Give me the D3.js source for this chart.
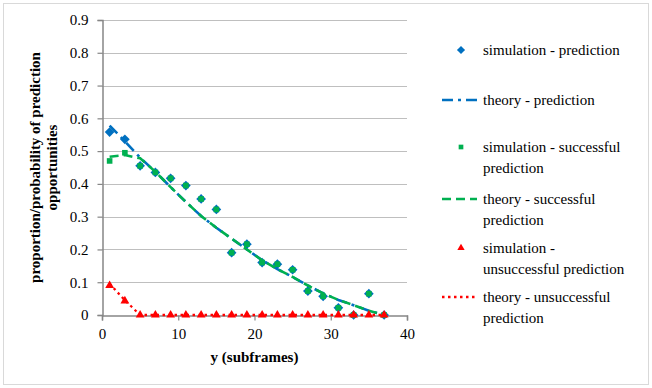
<!DOCTYPE html>
<html>
<head>
<meta charset="utf-8">
<script src="https://cdn.jsdelivr.net/npm/d3@7"></script>
<style>
  body { margin: 0; background: #fff; }
</style>
</head>
<body>
<svg id="chart" width="652" height="388"></svg>
<script>
const WIDTH = 652;
const HEIGHT = 388;
const FONT = '"Liberation Serif", Tinos, "Times New Roman", "DejaVu Serif", serif';

const yValues = [1, 3, 5, 7, 9, 11, 13, 15, 17, 19, 21, 23, 25, 27, 29, 31, 33, 35, 37];

const simPrediction = [0.558, 0.536, 0.455, 0.435, 0.417, 0.395, 0.354, 0.322, 0.19, 0.216,
  0.16, 0.155, 0.138, 0.073, 0.057, 0.022, 0, 0.065, 0];
const theoryPrediction = [0.578, 0.53, 0.48, 0.437, 0.39, 0.345, 0.302, 0.266, 0.233, 0.2,
  0.167, 0.14, 0.116, 0.09, 0.066, 0.046, 0.03, 0.013, 0];
const simSuccessful = [0.47, 0.495, 0.455, 0.435, 0.417, 0.395, 0.354, 0.322, 0.19, 0.216,
  0.16, 0.155, 0.138, 0.073, 0.057, 0.022, 0, 0.065, 0];
const theorySuccessful = [0.483, 0.488, 0.478, 0.437, 0.39, 0.345, 0.302, 0.266, 0.233, 0.2,
  0.167, 0.14, 0.116, 0.09, 0.066, 0.046, 0.03, 0.013, 0];
const simUnsuccessful = [0.09, 0.043, 0, 0, 0, 0, 0, 0, 0, 0, 0, 0, 0, 0, 0, 0, 0, 0, 0];
const theoryUnsuccessful = [0.095, 0.045, 0, 0, 0, 0, 0, 0, 0, 0, 0, 0, 0, 0, 0, 0, 0, 0, 0];

const xTicks = [0, 10, 20, 30, 40];
const yTicks = [0, 0.1, 0.2, 0.3, 0.4, 0.5, 0.6, 0.7, 0.8, 0.9];

const BLUE = '#0070c0';
const GREEN = '#00b050';
const RED = '#ff0000';

const series = [
  { name: ['simulation - prediction'], values: simPrediction, color: BLUE, type: 'marker', symbol: d3.symbolDiamond2, size: 60 },
  { name: ['theory - prediction'], values: theoryPrediction, color: BLUE, type: 'line', dash: '11,5,3,5' },
  { name: ['simulation - successful', 'prediction'], values: simSuccessful, color: GREEN, type: 'marker', symbol: d3.symbolSquare2, size: 40 },
  { name: ['theory - successful', 'prediction'], values: theorySuccessful, color: GREEN, type: 'line', dash: '9,5' },
  { name: ['simulation -', 'unsuccessful prediction'], values: simUnsuccessful, color: RED, type: 'marker', symbol: d3.symbolTriangle2, size: 55 },
  { name: ['theory - unsuccessful', 'prediction'], values: theoryUnsuccessful, color: RED, type: 'line', dash: '2.5,3.5' },
];

const margin = { left: 102, top: 20, right: 245, bottom: 73 };

const svg = d3.select('#chart').attr('font-family', FONT);

// outer frame
svg.append('rect')
  .attr('x', 3.5).attr('y', 3.5)
  .attr('width', 645).attr('height', 381)
  .attr('fill', '#fff')
  .attr('stroke', '#d9d9d9');

const x = d3.scaleLinear().domain([0, 40]).range([margin.left, WIDTH - margin.right]);
const y = d3.scaleLinear().domain([0, 0.9]).range([HEIGHT - margin.bottom, margin.top]);

// gridlines
svg.append('g')
  .selectAll('line')
  .data(yTicks.slice(1))
  .enter()
  .append('line')
  .attr('x1', x(0)).attr('x2', x(40))
  .attr('y1', (d) => Math.round(y(d)) + 0.5)
  .attr('y2', (d) => Math.round(y(d)) + 0.5)
  .attr('stroke', '#bfbfbf')
  .attr('stroke-width', 1.2);

// axes
const xAxis = svg.append('g')
  .attr('transform', `translate(0,${Math.round(y(0)) + 0.5})`)
  .call(d3.axisBottom(x).tickValues(xTicks).tickSize(5).tickPadding(8).tickFormat(d3.format('d')));

const yAxis = svg.append('g')
  .attr('transform', `translate(${Math.round(x(0)) + 0.5},0)`)
  .call(d3.axisLeft(y).tickValues(yTicks).tickSize(5).tickPadding(9)
    .tickFormat((d) => (d === 0 ? '0' : d3.format('.1f')(d))));

[xAxis, yAxis].forEach((g) => {
  g.attr('font-family', FONT).attr('font-size', 15);
  g.select('.domain').attr('stroke', '#868686').attr('stroke-width', 1.5);
  g.selectAll('.tick line').attr('stroke', '#868686').attr('stroke-width', 1.2);
  g.selectAll('.tick text').attr('fill', '#000');
});

// axis titles
svg.append('text')
  .attr('x', x(20))
  .attr('y', 362)
  .attr('text-anchor', 'middle')
  .attr('font-size', 15)
  .attr('font-weight', 'bold')
  .text('y (subframes)');

const yTitle = svg.append('text')
  .attr('transform', `translate(40,${y(0.45)})rotate(-90)`)
  .attr('text-anchor', 'middle')
  .attr('font-size', 15)
  .attr('font-weight', 'bold');
yTitle.append('tspan').attr('x', 0).attr('dy', 0).text('proportion/probability of prediction');
yTitle.append('tspan').attr('x', 0).attr('dy', 17).text('opportunities');

// data marks
const plot = svg.append('g');
const line = d3.line()
  .x((d) => x(d[0]))
  .y((d) => y(d[1]));

series.forEach((s) => {
  const pts = yValues.map((v, i) => [v, s.values[i]]);
  if (s.type === 'line') {
    plot.append('path')
      .datum(pts)
      .attr('d', line)
      .attr('fill', 'none')
      .attr('stroke', s.color)
      .attr('stroke-width', s.color === RED ? 2.3 : 2.6)
      .attr('stroke-dasharray', s.dash);
  } else {
    plot.append('g')
      .selectAll('path')
      .data(pts)
      .enter()
      .append('path')
      .attr('transform', (d) => `translate(${x(d[0])},${y(d[1])})`)
      .attr('d', d3.symbol().type(s.symbol).size(s.size))
      .attr('fill', s.color);
  }
});

// legend
const legendY = [50, 100, 147, 199, 248, 297];
const legend = svg.append('g');
series.forEach((s, i) => {
  const g = legend.append('g').attr('transform', `translate(0,${legendY[i]})`);
  if (s.type === 'line') {
    g.append('line')
      .attr('x1', 442).attr('x2', 477)
      .attr('y1', 0).attr('y2', 0)
      .attr('stroke', s.color)
      .attr('stroke-width', s.color === RED ? 2.3 : 2.6)
      .attr('stroke-dasharray', s.dash);
  } else {
    g.append('path')
      .attr('transform', 'translate(461,0)')
      .attr('d', d3.symbol().type(s.symbol).size(s.size * 0.7))
      .attr('fill', s.color);
  }
  const t = g.append('text')
    .attr('x', 483)
    .attr('y', 5)
    .attr('font-size', 15)
    .attr('fill', '#000');
  s.name.forEach((n, j) => {
    t.append('tspan').attr('x', 483).attr('dy', j === 0 ? 0 : 20.5).text(n);
  });
});
</script>
</body>
</html>
